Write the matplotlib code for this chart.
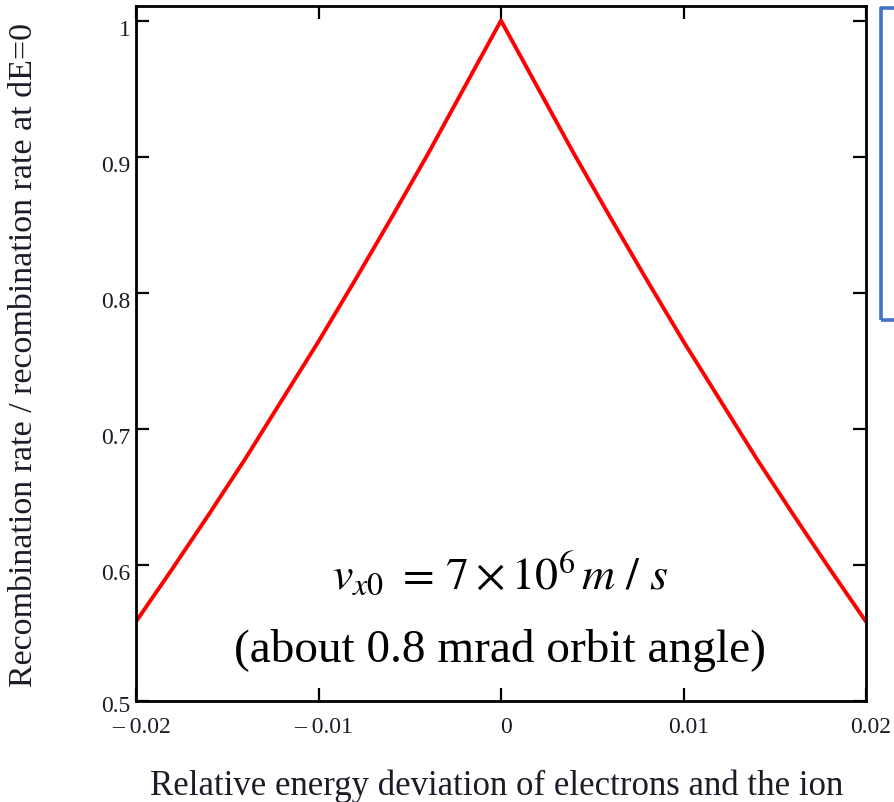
import numpy as np
import matplotlib
matplotlib.use("Agg")
import matplotlib.pyplot as plt
import matplotlib.transforms as mtransforms
from matplotlib.patches import Rectangle

#---------------data-----------------
# relative energy deviation dE
dE = [-0.020, -0.018, -0.016, -0.014, -0.012, -0.010, -0.008, -0.006, -0.004, -0.002, 0.000,
      0.002, 0.004, 0.006, 0.008, 0.010, 0.012, 0.014, 0.016, 0.018, 0.020]
# recombination rate normalised to the rate at dE=0
rate = [0.558, 0.597, 0.637, 0.678, 0.721, 0.764, 0.809, 0.855, 0.902, 0.951, 1.000,
        0.951, 0.902, 0.855, 0.809, 0.764, 0.721, 0.678, 0.637, 0.597, 0.558]
xticks = [-0.02, -0.01, 0.0, 0.01, 0.02]
xticklabels = ["\u2013 0.02", "\u2013 0.01", "0", "0.01", "0.02"]
yticks = [0.5, 0.6, 0.7, 0.8, 0.9, 1.0]
yticklabels = ["0.5", "0.6", "0.7", "0.8", "0.9", "1"]
#----------------------------------------------

plt.rcParams['font.family'] = ['Liberation Serif', 'DejaVu Serif']
plt.rcParams['mathtext.fontset'] = 'stix'

W, H = 894, 803
fig = plt.figure(figsize=(W / 100, H / 100), dpi=100)
ax = fig.add_axes([136 / W, 1 - 701.5 / H, 730 / W, 694.5 / H])

ax.plot(dE, rate, color='red', lw=2.8, solid_joinstyle='round')

ax.set_xlim(-0.02, 0.02)
ax.set_ylim(0.5, 1.0107)
ax.set_xticks(xticks)
ax.set_xticklabels(xticklabels)
ax.set_yticks(yticks)
ax.set_yticklabels(yticklabels)
ax.tick_params(direction='in', length=9.5, width=1.6, top=True, right=True,
               labelsize=17, labelcolor='#1c1c28')
ax.tick_params(axis='x', pad=11)
ax.tick_params(axis='y', pad=4)
for sp in ax.spines.values():
    sp.set_linewidth(2.0)

# shift tick labels slightly (right for x, down for y)
dx = mtransforms.ScaledTranslation(5 / 100, 0, fig.dpi_scale_trans)
for lab in ax.get_xticklabels():
    lab.set_transform(lab.get_transform() + dx)
for i, lab in enumerate(ax.get_yticklabels()):
    off = -2 if i == 0 else -6
    dy = mtransforms.ScaledTranslation(0, off / 100, fig.dpi_scale_trans)
    lab.set_transform(lab.get_transform() + dy)

# annotation
fig.text(500 / W, 1 - 590 / H, r'$v_{x0}\ =\,7\times10^{6}\,m\ /\ s$', fontsize=33,
         ha='center', va='baseline')
fig.text(500 / W, 1 - 662 / H, '(about 0.8 mrad orbit angle)', fontsize=34,
         ha='center', va='baseline')

# axis labels
fig.text(497 / W, 1 - 795 / H, 'Relative energy deviation of electrons and the ion',
         fontsize=25, ha='center', va='baseline', color='#1c1c28')
fig.text(24 / W, 1 - 355 / H, 'Recombination rate / recombination rate at dE=0',
         fontsize=24.5, ha='center', va='center', rotation=90, color='#1c1c28')

# box on the right edge
fig.add_artist(Rectangle((881 / W, 1 - 321 / H), 0.1, 312 / H, transform=fig.transFigure,
                         fill=False, edgecolor='#4472C4', lw=2.6, joinstyle='round'))

plt.savefig('out.png', dpi=100)
